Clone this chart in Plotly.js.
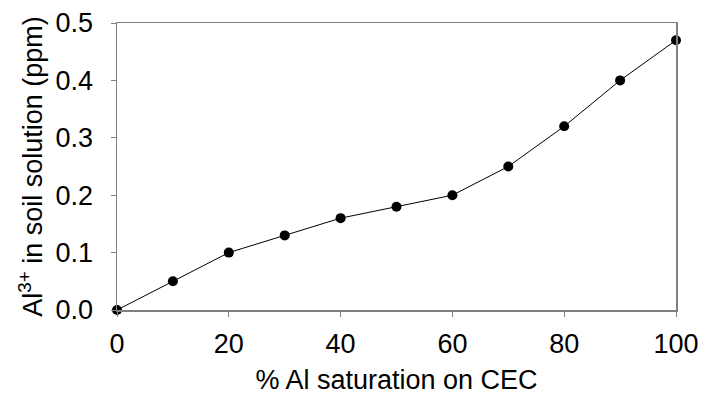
<!DOCTYPE html>
<html><head><meta charset="utf-8">
<script src="https://cdn.plot.ly/plotly-3.0.1.min.js"></script>
<style>html,body{margin:0;padding:0;background:#fff}#c{width:701px;height:402px}</style>
</head><body><div id="c"></div>
<script>
const alSaturation = [0, 10, 20, 30, 40, 50, 60, 70, 80, 90, 100];
const alSolution = [0, 0.05, 0.10, 0.13, 0.16, 0.18, 0.20, 0.25, 0.32, 0.40, 0.47];
const xTicks = [0, 20, 40, 60, 80, 100];
const yTicks = [0, 0.1, 0.2, 0.3, 0.4, 0.5];
const yTickText = ['0.0', '0.1', '0.2', '0.3', '0.4', '0.5'];

const font = {family: 'Liberation Sans, Arial, sans-serif', size: 27, color: '#000'};
Plotly.newPlot('c', [{
  x: alSaturation, y: alSolution, type: 'scatter', mode: 'lines+markers',
  line: {color: '#000', width: 1}, marker: {color: '#000', size: 10},
  cliponaxis: false, hoverinfo: 'none'
}], {
  width: 701, height: 402,
  margin: {l: 117, r: 25, t: 23, b: 92},
  paper_bgcolor: '#fff', plot_bgcolor: '#fff',
  font: font, showlegend: false,
  xaxis: {range: [0, 100], tickvals: xTicks, ticks: 'outside', ticklen: 5, tickcolor: '#808080',
    showline: true, linecolor: '#808080', linewidth: 1.5, mirror: true, showgrid: false, zeroline: false,
    tickfont: font, ticklabelstandoff: 4, title: {text: '% Al saturation on CEC', font: font, standoff: 12}},
  yaxis: {range: [0, 0.5], tickvals: yTicks, ticktext: yTickText, ticks: 'outside', ticklen: 5, tickcolor: '#808080',
    showline: true, linecolor: '#808080', linewidth: 1.5, mirror: true, showgrid: false, zeroline: false,
    tickfont: font, ticklabelstandoff: 12, title: {text: 'Al<sup>3+</sup> in soil solution (ppm)', font: font, standoff: 5}}
}, {displayModeBar: false, staticPlot: true});
</script></body></html>
